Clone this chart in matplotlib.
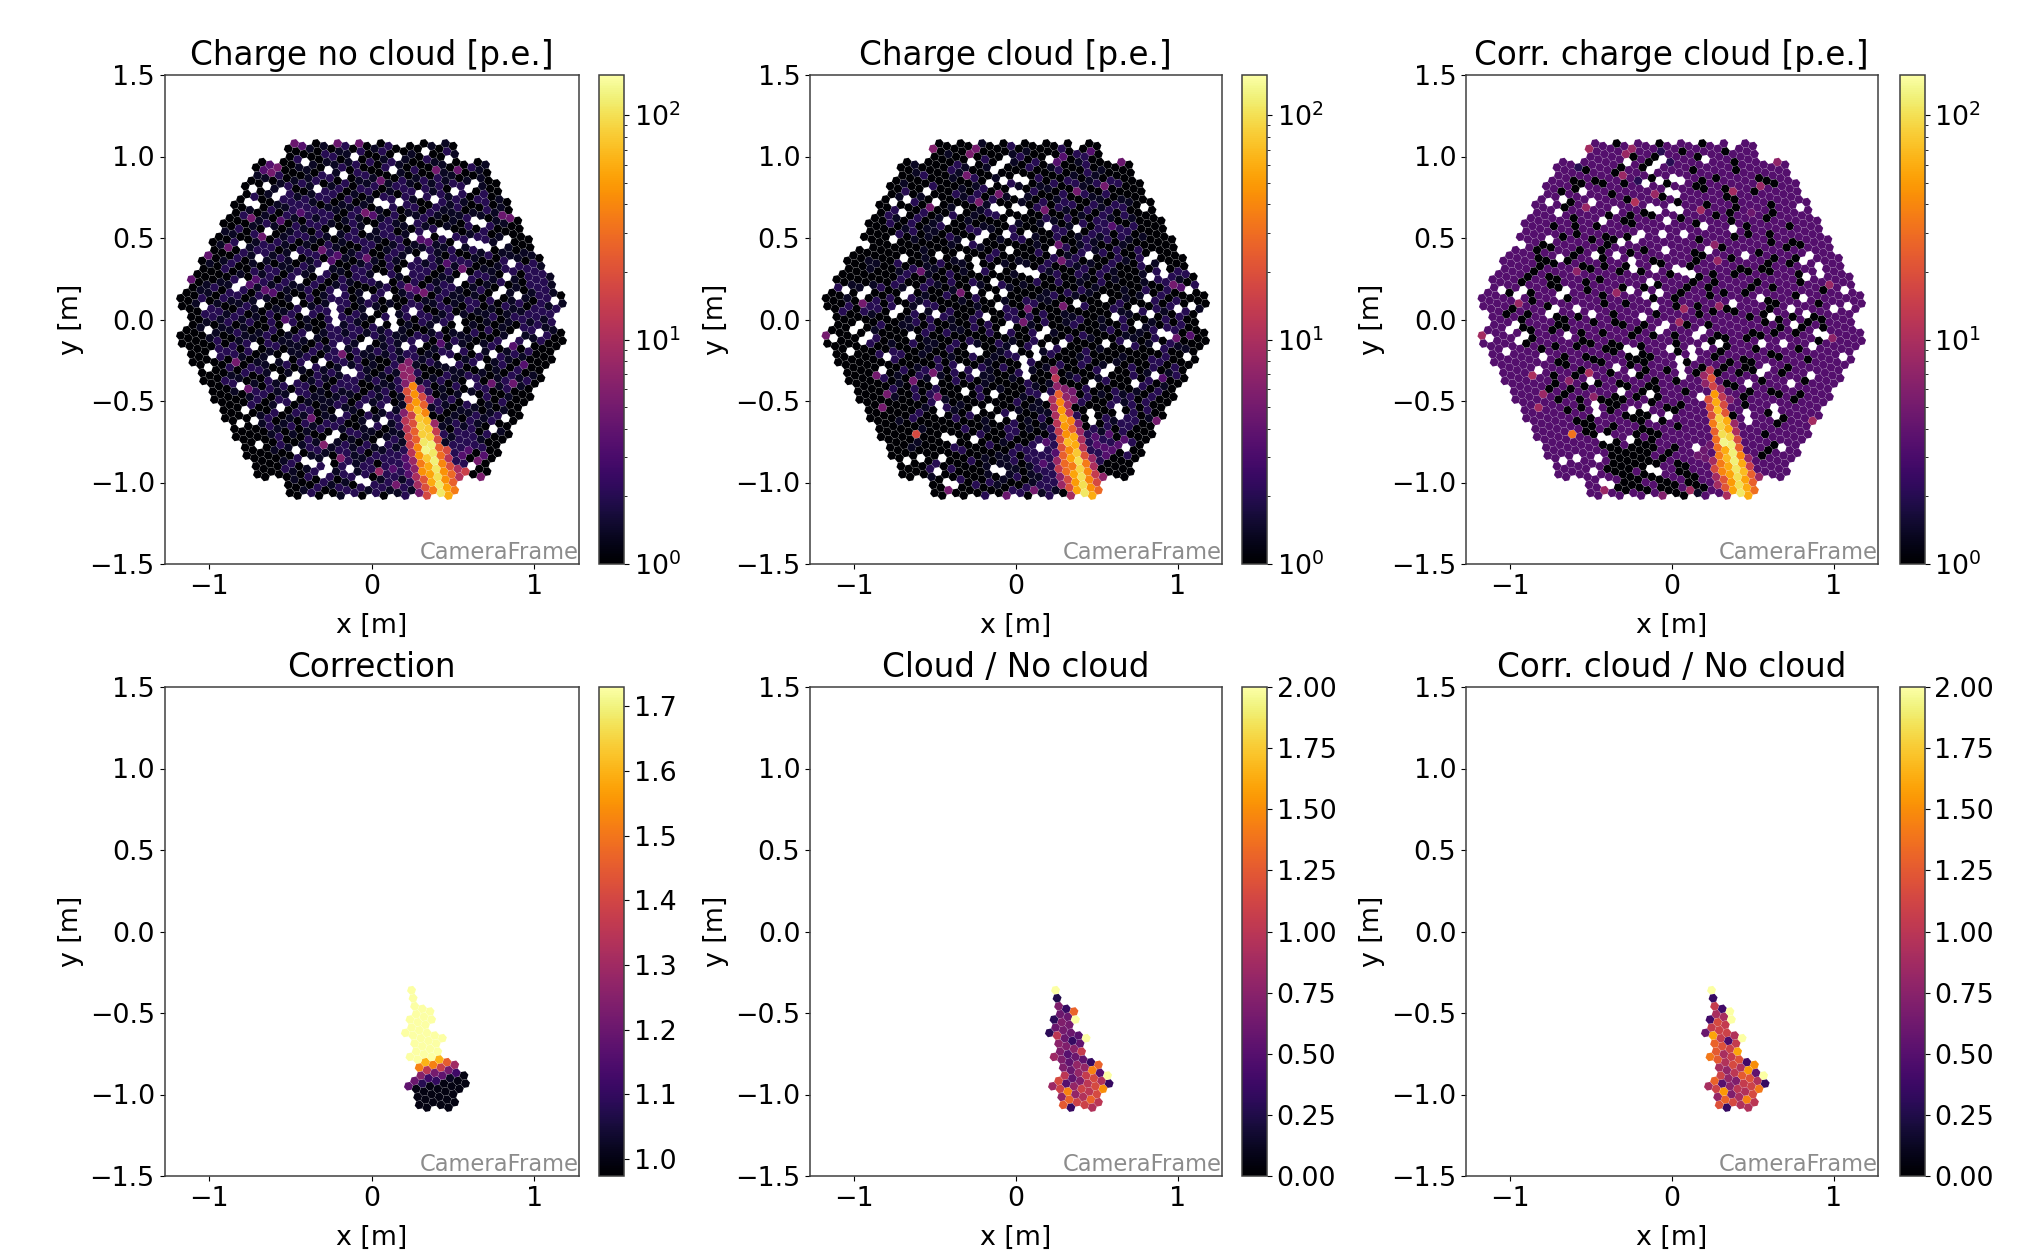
import numpy as np
import matplotlib
matplotlib.use("Agg")
import matplotlib.pyplot as plt
from matplotlib.collections import PolyCollection
from matplotlib.colors import LogNorm, Normalize

titles = ["Charge no cloud [p.e.]", "Charge cloud [p.e.]", "Corr. charge cloud [p.e.]",
          "Correction", "Cloud / No cloud", "Corr. cloud / No cloud"]

# background level per 0.05 m cell, top to bottom. These are estimates by eye from the
# zoomed picture: the overall patches are read, single cells are not exact
bg_levels = [1.0, 1.35, 2.0, 3.4, 4.6]
bg_nc = ["000000000000000300102130302002010100000000000000",
         "000000000000000010201020120010100210000000000000",
         "000000000000202000120102012010210102000000000000",
         "000000000033100110212020020102031020210000000000",
         "000000000010201012202012100201202101010000000000",
         "000000000100120212012021201210212020010000000000",
         "000000000201021012220102021020212102020000000000",
         "000000001000122210201201012021012121020100000000",
         "000000000102012322110120102012021120102100000000",
         "000000002010321021201210312021201012210100000000",
         "000000020102102122010212022102120102032010000000",
         "000000100212012202101201122012103020120100000000",
         "000001020120212010201022101201312002121020000000",
         "000000102122010220210102012210121201212010100000",
         "000001020101212012031022102102321020102021010000",
         "000010200102010212010212002022120312010120221000",
         "000000010212202101201021202102201201021012022100",
         "000101120321021002012102100202012100201201022210",
         "000120212013210120212010020103021210120021012212",
         "000202120121012020122012201020102012102001102200",
         "001021012120102012102012101022012210201021202121",
         "000222120102012020212021020120201201012012122200",
         "000101201202032010201210202010212020101010212120",
         "000010121012010210121221212102012010202010120210",
         "000012012102012101022103012121203021010201212000",
         "000002202101201022120121212122012102012013020000",
         "000002021012010120221021012122101201020212100000",
         "000000210210120212012120102121021120210120300000",
         "000000102021012102121021012122000212010102010000",
         "000000210102102012102201210221212010201120120000",
         "000000010202120201021220121220201020120120100000",
         "000000000120212021012102120121201212102010000000",
         "000000000201120210121022120120212102101020000000",
         "000000000010202120102102012120102011201210000000",
         "000000000012010210212012101211210120212000000000",
         "000000000002102012021201201212101021202100000000",
         "000000000001201020120121012122212122212000000000",
         "000000000000210121012102122123232122220000000000",
         "000000000000102012102120212232322223030000000000",
         "000000000000012201201212022232321222000000000000",
         "000000000000021012012012123232121200000000000000",
         "000000000000001020201212012122120000000000000000",
         "000000000000000102012021221212000000000000000000",
         "000000000000000020101201201120000000000000000000"]
bg_c = ["000000000000000000010002000002002000000000000000",
        "000000000000000100200001010002020300000000000000",
        "000000000000000000102001202003012000000000000000",
        "000000000001000021001000020012002010000000000000",
        "000000000000200010200100102000210102000000000000",
        "000000000010020001012002100120021020200000000000",
        "000000000120100021020012012002012102000000000000",
        "000000000012001000201200100201200210210000000000",
        "000000000200210010012000202002102012020000000000",
        "000000002102001020100201000210201021021000000000",
        "000000002012012000201002100120102023202000000000",
        "000000000202010200020012001002010212020100000000",
        "000000000001000010200010201002012102010000000000",
        "000000000000100000010200002010202120200200000000",
        "000001000000102010002000100020120200210210000000",
        "000000100202012001020010010200212102000201100000",
        "000000000120210201002001002012021020100102022000",
        "000100100200021020210020102002010020100102201020",
        "002010020010200010200021000100202100010020203100",
        "000100202002100201020010020120010000010102020000",
        "000200202001020000010020012000002000201002020210",
        "002002100002010200020002020200100000010200102020",
        "000020020012020010202002010200120010020010202000",
        "000000100000200201002002002010002002010102020300",
        "000000201002010020210201002000200100201012020000",
        "000000002000010200020010020102002010002000201000",
        "000000020200102010200102002020012000010020200000",
        "000000000001002020021020020102002010102002020000",
        "000000200120201020201000201020100020002010120000",
        "000000020100010020201001020010020012001020300000",
        "000000002002002002020010021020202000201202100000",
        "000000000102020100020200102020202010212020000000",
        "000000000000120201002000201020102002012020000000",
        "000000000000200010200020100102020100202020000000",
        "000000000102000020001002010202010002122010000000",
        "000000000000100002001002010120020212020000000000",
        "000000000000000100020002002020212323030000000000",
        "000000000001000020002010202323221232302000000000",
        "000000000000000002000102022232321223020000000000",
        "000000000000002000201012022322321220000000000000",
        "000000000000020020001021012220222100000000000000",
        "000000000000010102002010201220210000000000000000",
        "000000000000000200020102020212100000000000000000",
        "000000000000000000002000200120000000000000000000"]
bg_cc = ["000000000000000030333203333030330000000000000000",
         "000000000000000033033323303333033000000000000000",
         "000000000000000003303032333033303300000000000000",
         "000000000003203330330033330333303330000000000000",
         "000000000030330333323033233030333300300000000000",
         "000000000333033033033330333033033333030000000000",
         "000000000303333303333303033333033303330000000000",
         "000000003330330333033333033303303333033000000000",
         "000000000303303333330303333333303433030000000000",
         "000000003330333303033033303330303330333000000000",
         "000000003033030333303333333033333033330300000000",
         "000000033303033033033303303333303033033300000000",
         "000000330333330303303333333030333333030030000000",
         "000000303033033033030333330333033303330330000000",
         "000000300330333033333033333033303333033033000000",
         "000003303033303033033303330333330330330333000000",
         "000033030333033330330330303030303033033033300000",
         "000030333033303033333303330330333303333033300000",
         "003033033303303330330303303303033033033333030000",
         "000333033330333033333033033303333330333033300000",
         "000303330333033033033333033033033333030333030000",
         "003033033033033303333303333030303030330330333000",
         "000330333303330330330333303303333330303303030000",
         "000033033033033033303033033330333303033033330000",
         "000003033333303303333333033303033033303333030000",
         "000003303033033000000333033333033303333033000000",
         "000000330303300333000033033330330333003303000000",
         "000000033303333033030333303033003033330333000000",
         "000000303033033303300330333030330303303330000000",
         "000000033033330330333033033303033330330303000000",
         "000000030330303333030003303330303033033330000000",
         "000000000303033030303303333330330333303030000000",
         "000000000033030300333030303330333033033000000000",
         "000000000030333303030333033330303330333000000000",
         "000000000003003333300303333333333033303000000000",
         "000000000000300303330033033333303333330000000000",
         "000000000000030033003003333334333330300000000000",
         "000000000000003000300033033343333333030000000000",
         "000000000000000300000330333434433330300000000000",
         "000000000000000300000003033343333300000000000000",
         "000000000000000300030033003333330000000000000000",
         "000000000000000003003000330330300000000000000000",
         "000000000000000030000300030033300000000000000000",
         "000000000000000000000030000130000000000000000000"]

# pixels without a value (white), x and y in metres
dead_nc = [(-.41,.97),(-.11,1.01),(.33,1.03),(.18,1.08),(.16,1.02),(.47,.99),(-.26,.92),(-.17,.89),
           (.13,.92),(-.72,.81),(-.64,.82),(-.33,.81),(-.55,.79),(-.59,.76),(.64,.84),(.59,.80),
           (.51,.79),(.29,.77),(.39,.74),(.04,.73),(.08,.71),(.17,.73),(-.76,.73),(-.70,.71),
           (.63,.61),(.69,.59),(.24,.61),(-.63,.54),(-.24,.54),(-.02,.56),(.43,.55),(.48,.53),
           (.26,.51),(.34,.53),(-.79,.46),(.53,.46),(.62,.48),(.66,.46),(.71,.45),(.83,.50),
           (.79,.46),(-.47,.40),(-.69,.38),(.24,.38),(.32,.40),(-.28,.34),(-.32,.30),(.86,.35),
           (.21,.30),(.04,.27),(.09,.25),(.57,.27),(.53,.23),(-.44,.25),(-.79,.23),(-.84,.20),
           (.83,.27),(.81,.19),(.76,.16),(-.21,.17),(-.03,.15),(.10,.15),(.90,.15),(1.12,.12),
           (-1.03,.09),(-.68,.11),(-.46,.12),(-.24,.09),(-.23,.04),(-.22,-.01),(-.41,.06),
           (-.01,.06),(.13,.06),(.14,.01),(.14,-.04),(.26,.06),(.05,-.01),(.53,.01),(.54,-.04),
           (.41,-.04),(-.52,-.04),(-1.00,-.06),(1.03,-.08),(.89,-.07),(.85,-.11),(.81,-.15),
           (-.38,-.09),(-.02,-.12),(-.07,-.16),(-.72,-.16),(-.19,-.16),(.21,-.16),(.29,-.14),
           (.52,-.18),(.65,-.18),(.75,-.21),(.96,-.14),(-.97,-.21),(-.62,-.24),(-.53,-.22),
           (-.39,-.27),(-.30,-.26),(.44,-.24),(.50,-.26),(.67,-.27),(-1.00,-.29),(-.17,-.30),
           (-.12,-.32),(-.45,-.34),(-.50,-.37),(-.60,-.34),(.61,-.39),(-.80,-.40),(-.48,-.47),
           (.58,-.47),(.63,-.49),(-.02,-.53),(.10,-.54),(-.56,-.53),(-.78,-.55),(-.19,-.57),
           (.82,-.60),(-.72,-.61),(-.80,-.63),(-.01,-.63),(.08,-.61),(.74,-.67),(-.22,-.70),
           (-.26,-.73),(.06,-.75),(-.69,-.76),(-.46,-.79),(-.40,-.86),(-.36,-.88),(-.26,-.87),
           (-.28,-.91),(-.30,-.95),(-.13,-.91),(.61,-.89),(-.08,-.98),(-.02,-.99)]
dead_c = [(-.06,.99),(-.10,.95),(-.14,.91),(-.28,.97),(.20,.98),(-.08,.85),(.00,.88),(.05,.86),
          (-.01,.81),(.02,.77),(-.02,.78),(-.17,.84),(-.55,.79),(-.67,.74),(-.76,.72),(-.49,.72),
          (-.70,.66),(-.36,.68),(-.14,.69),(-.09,.67),(-.01,.69),(.05,.67),(.79,.69),(-.43,.61),
          (-.04,.61),(.19,.58),(.37,.56),(-.19,.53),(-.23,.50),(-.31,.48),(-.06,.52),(.07,.53),
          (-.76,.49),(-.04,.43),(.22,.43),(.44,.40),(-.47,.40),(-.35,.40),(-.69,.38),(-.25,.37),
          (-.24,.32),(.84,.40),(.80,.36),(.90,.33),(.91,.28),(.02,.32),(.07,.30),(.12,.28),
          (-.11,.32),(.82,.27),(-.14,.23),(-1.05,.19),(-.91,.19),(-.95,.15),(-.66,.18),(-.70,.14),
          (-.26,.19),(-.17,.15),(-.08,.17),(.54,.14),(.80,.14),(1.06,.19),(.37,.10),(-.11,.09),
          (-.72,.07),(-.76,.03),(-.59,.07),(-.49,.04),(.73,.07),(.99,.07),(1.08,.09),(.82,.04),
          (-.18,.02),(.61,.02),(.75,-.03),(-.04,-.02),(-.09,-.06),(.18,-.05),(.14,-.09),
          (-.95,-.03),(-1.00,-.07),(-.91,-.08),(-.95,-.12),(-.64,-.09),(.89,-.07),(.93,-.09),
          (-1.11,-.10),(-1.14,-.10),(.29,-.14),(.55,-.14),(.68,-.14),(.86,-.16),(-.01,-.18),
          (-.28,-.18),(-.23,-.19),(.12,-.18),(.13,-.22),(-1.02,-.19),(.20,-.16),(-.79,-.22),
          (1.05,-.22),(.05,-.24),(.04,-.29),(.06,-.34),(-.35,-.29),(.58,-.28),(.54,-.32),
          (-.82,-.30),(-.25,-.32),(-.50,-.37),(.85,-.34),(.47,-.39),(.73,-.39),(-.32,-.43),
          (-.14,-.45),(.18,-.47),(-.47,-.51),(-.47,-.56),(-.25,-.55),(-.17,-.53),(-.02,-.58),
          (-.11,-.59),(.46,-.56),(.47,-.61),(.63,-.53),(.63,-.58),(-.43,-.71),(-.39,-.73),
          (-.26,-.73),(.67,-.78),(.14,-.78),(-.59,-.84),(-.46,-.84),(-.48,-.92),(-.14,-.91),
          (-.09,-.92),(-.43,-.99),(-.38,-1.01),(-.68,-.86),(-.92,.47),(-1.02,.49),(.39,1.05)]

# single brighter pixels, (x, y, charge)
bright_nc = [(-.47,1.08,4.5),(-.57,.94,5),(-.61,.91,5),(-.08,1.08,4.5),(-.21,1.08,4.5),(.39,.92,5),
             (.53,.92,4.5),(.06,.86,4.5),(-.04,.66,5),(-.73,.63,5),(-.67,.51,4.5),(-.88,.45,4.5),
             (-.30,.43,4.5),(-.03,.38,4.5),(-1.00,.40,4),(-.65,.19,4),(.23,.20,4.5),(.32,.17,5),
             (.56,.32,4.5),(.80,.64,4.5),(.85,.63,4.5),(-.83,-.26,5),(-.18,-.21,5),(-.76,-.42,4.5),
             (-.37,-.60,4.5),(-.29,-.76,6),(-.19,-.84,6),(.05,-.92,8),(.65,-.86,5),(.67,-.96,5.5),
             (.73,-.39,4.5),(.87,-.39,4.5),(.15,-1.01,5),(-1.10,.25,4)]
bright_c = [(-.51,1.05,6),(-.29,1.02,5.5),(-.25,1.05,5),(-.30,.89,5),(-.23,.72,5.5),(-.53,.69,5),
            (.18,.68,5),(.37,.79,5),(.54,.82,5),(.64,.97,4.5),(-.11,.77,5),(-.59,.30,4.5),
            (-.34,.17,5),(.97,.22,5),(.07,.07,5),(.04,-.01,5),(.29,.09,5),(-.95,.10,5),
            (-1.17,-.09,5),(-.51,-.32,5),(-.86,-.34,5),(-.63,-.37,5),(-.79,-.45,5),(-.82,-.53,5),
            (-.48,-.47,5),(-.62,-.70,18),(-.42,-1.04,5),(-.07,-1.07,4.5),(.11,-1.04,5),(.27,.37,5),
            (.26,.46,4.5),(.85,-.61,5),(.98,-.11,4.5)]
bright_cc = [(-.51,1.05,9),(-.29,1.02,8),(-.25,1.05,8),(-.30,.89,8),(-.23,.72,11),(-.53,.69,8),
             (.18,.68,9),(.37,.79,9),(.54,.82,8),(.64,.97,7),(-.11,.77,8),(-.59,.30,7),
             (-.34,.17,8),(.97,.22,8),(.07,.07,9),(.04,-.01,9),(.29,.09,8),(-.95,.10,8),
             (-1.17,-.09,9),(-.51,-.32,10),(-.86,-.34,10),(-.63,-.37,7),(-.79,-.45,8),(-.82,-.53,9),
             (-.48,-.47,7),(-.62,-.70,32),(-.42,-1.04,8),(-.07,-1.07,6),(.11,-1.04,9),(.27,.37,8),
             (.26,.46,7),(.85,-.61,9),(.98,-.11,7)]

# shower pixels per lattice row: (row, first column, values along the row)
shower_nc = [(-4,0,[6]),(-3,-1,[7,7]),(-2,-1,[7,8]),(-1,-1,[6,40,6]),(0,-1,[20,45,18,5]),
             (1,-1,[18,50,25]),(2,-1,[35,70,40]),(3,-2,[6,15,80,70,8]),(4,-2,[12,20,90,80,14]),
             (5,-2,[12,25,85,85,18]),(6,-2,[15,25,110,120,25,18]),(7,-2,[14,40,130,110,30,12]),
             (8,-2,[12,45,80,120,40,20,10,15]),(9,-2,[8,35,60,110,45,28,11]),
             (10,-2,[7,45,55,100,45,25]),(11,-2,[10,22,60,110,55,35]),(12,-2,[9,20,35,110,60]),
             (13,-2,[5,18])]
shower_c = [(-3,0,[7]),(-2,0,[12]),(-1,0,[7,6,5]),(0,0,[25,7,6]),(1,-1,[10,40,10]),(2,-1,[10,50,12]),
            (3,-1,[10,60,40,6]),(4,-1,[12,50,25,8]),(5,-1,[14,45,60,10]),(6,-1,[18,70,60,12]),
            (7,-1,[20,40,80,20,8]),(8,-1,[25,55,100,35,10]),(9,-2,[8,28,35,90,40,14,7]),
            (10,-2,[14,30,55,100,40,18]),(11,-2,[7,18,50,100,45,28]),(12,-2,[8,20,55,110,60]),
            (13,-1,[9])]
shower_cc = [(-3,0,[12]),(-2,-1,[8,22]),(-1,-1,[7,16,8]),(0,0,[50,13,6]),(1,-1,[20,60,18]),
             (2,-1,[20,70,22]),(3,-1,[20,90,60,8]),(4,-1,[35,90,60,10]),(5,-1,[25,100,90,18]),
             (6,-1,[30,130,120,25]),(7,-1,[30,60,120,40,8]),(8,-1,[35,70,120,60,15]),
             (9,-2,[9,35,60,110,70,25,8]),(10,-2,[18,40,55,100,55,25]),(11,-2,[9,22,50,100,60,30]),
             (12,-2,[9,22,55,110,60]),(13,-1,[10])]

# pixels kept in the lower panels, same rows and columns
corr_rows = [(-2,0,[1.73]),(-1,0,[1.73]),(0,0,[1.73,1.73,1.73]),(1,0,[1.73,1.73,1.73]),
             (2,-1,[1.73,1.73,1.73]),(3,-1,[1.73,1.73,1.73,1.73,1.73]),(4,-2,[1.73,1.73,1.73,1.73,1.73]),
             (5,-1,[1.73,1.73,1.73,1.73]),(6,-1,[1.73,1.73,1.73,1.6,1.45,1.3]),
             (7,-2,[1.73,1.73,1.6,1.52,1.38,1.22,1.12,1.0]),(8,-1,[1.52,1.35,1.22,1.18,1.02,1.0,1.0]),
             (9,-1,[1.25,1.12,1.1,1.0,1.0,1.0]),(10,-2,[1.2,1.08,1.0,1.0,1.0,1.0]),
             (11,-3,[1.18,1.0,1.0,1.0,1.0,1.0,1.0]),(12,-2,[1.0,1.0,1.0,1.0,1.0]),(13,-2,[1.0,1.0])]
ratio_rows = [(-2,0,[2.0]),(-1,0,[.25]),(0,0,[.7,.35,1.3]),(1,0,[.6,.6,2.0]),(2,-1,[.3,.7,.65]),
              (3,-1,[.6,.65,.6,.5,2.0]),(4,-2,[.3,1.0,.6,.35,.55]),(5,-1,[.75,.7,.75,1.05]),
              (6,-1,[.7,.5,.6,.55,.35,1.3]),(7,-2,[.85,.7,.55,.8,.8,1.45,.5,2.0]),
              (8,-1,[.7,.6,.8,1.05,1.15,.95,.35]),(9,-1,[1.0,.55,.7,1.0,1.15,1.5]),
              (10,-2,[1.15,.5,.8,1.1,1.0,1.15]),(11,-3,[.85,1.1,1.45,.8,.95,1.3,1.0]),
              (12,-2,[.8,1.3,1.1,1.1,.95]),(13,-2,[1.25,.35])]
corr_ratio_rows = [(-2,0,[2.0]),(-1,0,[.35]),(0,0,[1.05,.4,2.0]),(1,0,[.9,.9,2.0]),(2,-1,[.4,1.15,1.05]),
                   (3,-1,[1.05,1.1,1.1,.95,2.0]),(4,-2,[.6,1.6,1.05,.45,1.05]),(5,-1,[1.3,1.2,1.1,1.6]),
                   (6,-1,[1.25,.9,1.05,1.2,.4,1.5]),(7,-2,[1.4,1.25,.95,1.15,.95,1.55,.55,2.0]),
                   (8,-1,[.9,.8,1.0,1.25,1.2,.95,.35]),(9,-1,[1.1,.8,.7,1.05,1.1,1.4]),
                   (10,-2,[1.3,.5,.75,1.0,.95,1.15]),(11,-3,[.9,1.1,1.55,.7,.9,1.45,1.0]),
                   (12,-2,[.8,1.3,1.15,.95,.95]),(13,-2,[1.2,.35])]

shower_anchor = (0.261, -0.455)

# camera geometry: 265 modules of 7 pixels, 0.05 m pitch
pitch = 0.05
tilt = np.radians(-19.1)
vec_a = pitch * np.array([np.cos(tilt), np.sin(tilt)])
vec_b = pitch * np.array([np.cos(tilt - np.radians(60)), np.sin(tilt - np.radians(60))])
mod_1 = np.array([pitch * np.sqrt(7), 0.0])
mod_2 = pitch * np.sqrt(7) * np.array([0.5, np.sqrt(3) / 2])


def camera_pixels():
    offsets = [np.zeros(2), vec_a, -vec_a, vec_b, -vec_b, vec_a - vec_b, vec_b - vec_a]
    pts = []
    for n in range(-9, 10):
        for m in range(-9, 10):
            ring = max(abs(n), abs(m), abs(n + m))
            if ring > 9 or (ring == 9 and (n == 0 or m == 0 or n + m == 0)):
                continue
            centre = n * mod_1 + m * mod_2
            pts.extend(centre + o for o in offsets)
    return np.array(pts)


pix = camera_pixels()


def nearest(x, y):
    return np.argmin((pix[:, 0] - x) ** 2 + (pix[:, 1] - y) ** 2)


def put_rows(values, rows):
    for j, i0, vals in rows:
        for k, v in enumerate(vals):
            p = np.array(shower_anchor) + (i0 + k) * vec_a + j * vec_b
            values[nearest(p[0], p[1])] = v


def top_values(bg, dead, bright, shower, fill_rim=False):
    values = np.zeros(len(pix))
    for n, (x, y) in enumerate(pix):
        col = min(max(int((x + 1.2) / 0.05), 0), 47)
        row = min(max(int((1.1 - y) / 0.05), 0), 43)
        line = bg[row].ljust(48, "0")
        if fill_rim:
            # rim pixels past the last typed cell of a row take that cell
            filled = line.strip("0")
            if filled:
                first = line.index(filled)
                col = min(max(col, first), first + len(filled) - 1)
        values[n] = bg_levels[int(line[col])]
    for x, y in dead:
        values[nearest(x, y)] = np.nan
    for x, y, q in bright:
        values[nearest(x, y)] = q
    put_rows(values, shower)
    return values


def low_values(rows):
    values = np.full(len(pix), np.nan)
    put_rows(values, rows)
    return values


panel_values = [top_values(bg_nc, dead_nc, bright_nc, shower_nc),
                top_values(bg_c, dead_c, bright_c, shower_c),
                top_values(bg_cc, dead_c, bright_cc, shower_cc, fill_rim=True),
                low_values(corr_rows), low_values(ratio_rows), low_values(corr_ratio_rows)]
norms = [LogNorm(1, 151), LogNorm(1, 151), LogNorm(1, 151),
         Normalize(0.974, 1.73), Normalize(0, 2), Normalize(0, 2)]

W, H = 2029.0, 1253.0
lefts = [164.5, 810.0, 1466.0]
ax_widths = [414.0, 411.5, 411.5]
cbar_lefts = [599.0, 1242.0, 1899.5]
tops = [75.0, 687.0]
ax_h, cb_w = 489.0, 25.0

cmap = plt.get_cmap("inferno").copy()
cmap.set_bad("white")

r = pitch * 0.49 / np.cos(np.radians(30))
angles = tilt + np.radians(30) + np.arange(6) * np.radians(60)
hexagon = np.column_stack([r * np.cos(angles), r * np.sin(angles)])

plt.rcParams["font.size"] = 19.4
plt.rcParams["axes.edgecolor"] = "#404040"
plt.rcParams["axes.linewidth"] = 1.1

fig = plt.figure(figsize=(W / 100, H / 100), dpi=100)
for n in range(6):
    col, row = n % 3, n // 3
    bottom = 1 - (tops[row] + ax_h) / H
    ax = fig.add_axes([lefts[col] / W, bottom, ax_widths[col] / W, ax_h / H])
    cax = fig.add_axes([cbar_lefts[col] / W, bottom, cb_w / W, ax_h / H])

    vals = panel_values[n]
    keep = ~np.isnan(vals)
    polys = [p + hexagon for p in pix[keep]]
    coll = PolyCollection(polys, cmap=cmap, norm=norms[n], edgecolors="none")
    coll.set_array(vals[keep])
    ax.add_collection(coll)

    ax.set_xlim(-1.27, 1.27)
    ax.set_ylim(-1.5, 1.5)
    ax.set_xticks([-1, 0, 1])
    ax.set_yticks([-1.5, -1.0, -0.5, 0.0, 0.5, 1.0, 1.5])
    ax.set_xlabel("x [m]", labelpad=9.5)
    ax.set_ylabel("y [m]", labelpad=4)
    ax.set_title(titles[n], fontsize=23.5, pad=7.5)
    ax.text(1.0, 0.0, "CameraFrame", transform=ax.transAxes, ha="right", va="bottom",
            color="#8c8c8c", fontsize=16.3)

    cb = fig.colorbar(coll, cax=cax)
    if n == 3:
        cb.set_ticks([1.0, 1.1, 1.2, 1.3, 1.4, 1.5, 1.6, 1.7])
    if n > 3:
        cb.set_ticks(np.arange(0, 2.01, 0.25))
        cb.set_ticklabels(["0.00", "0.25", "0.50", "0.75", "1.00", "1.25", "1.50", "1.75", "2.00"])

fig.savefig("out.png", dpi=100)
